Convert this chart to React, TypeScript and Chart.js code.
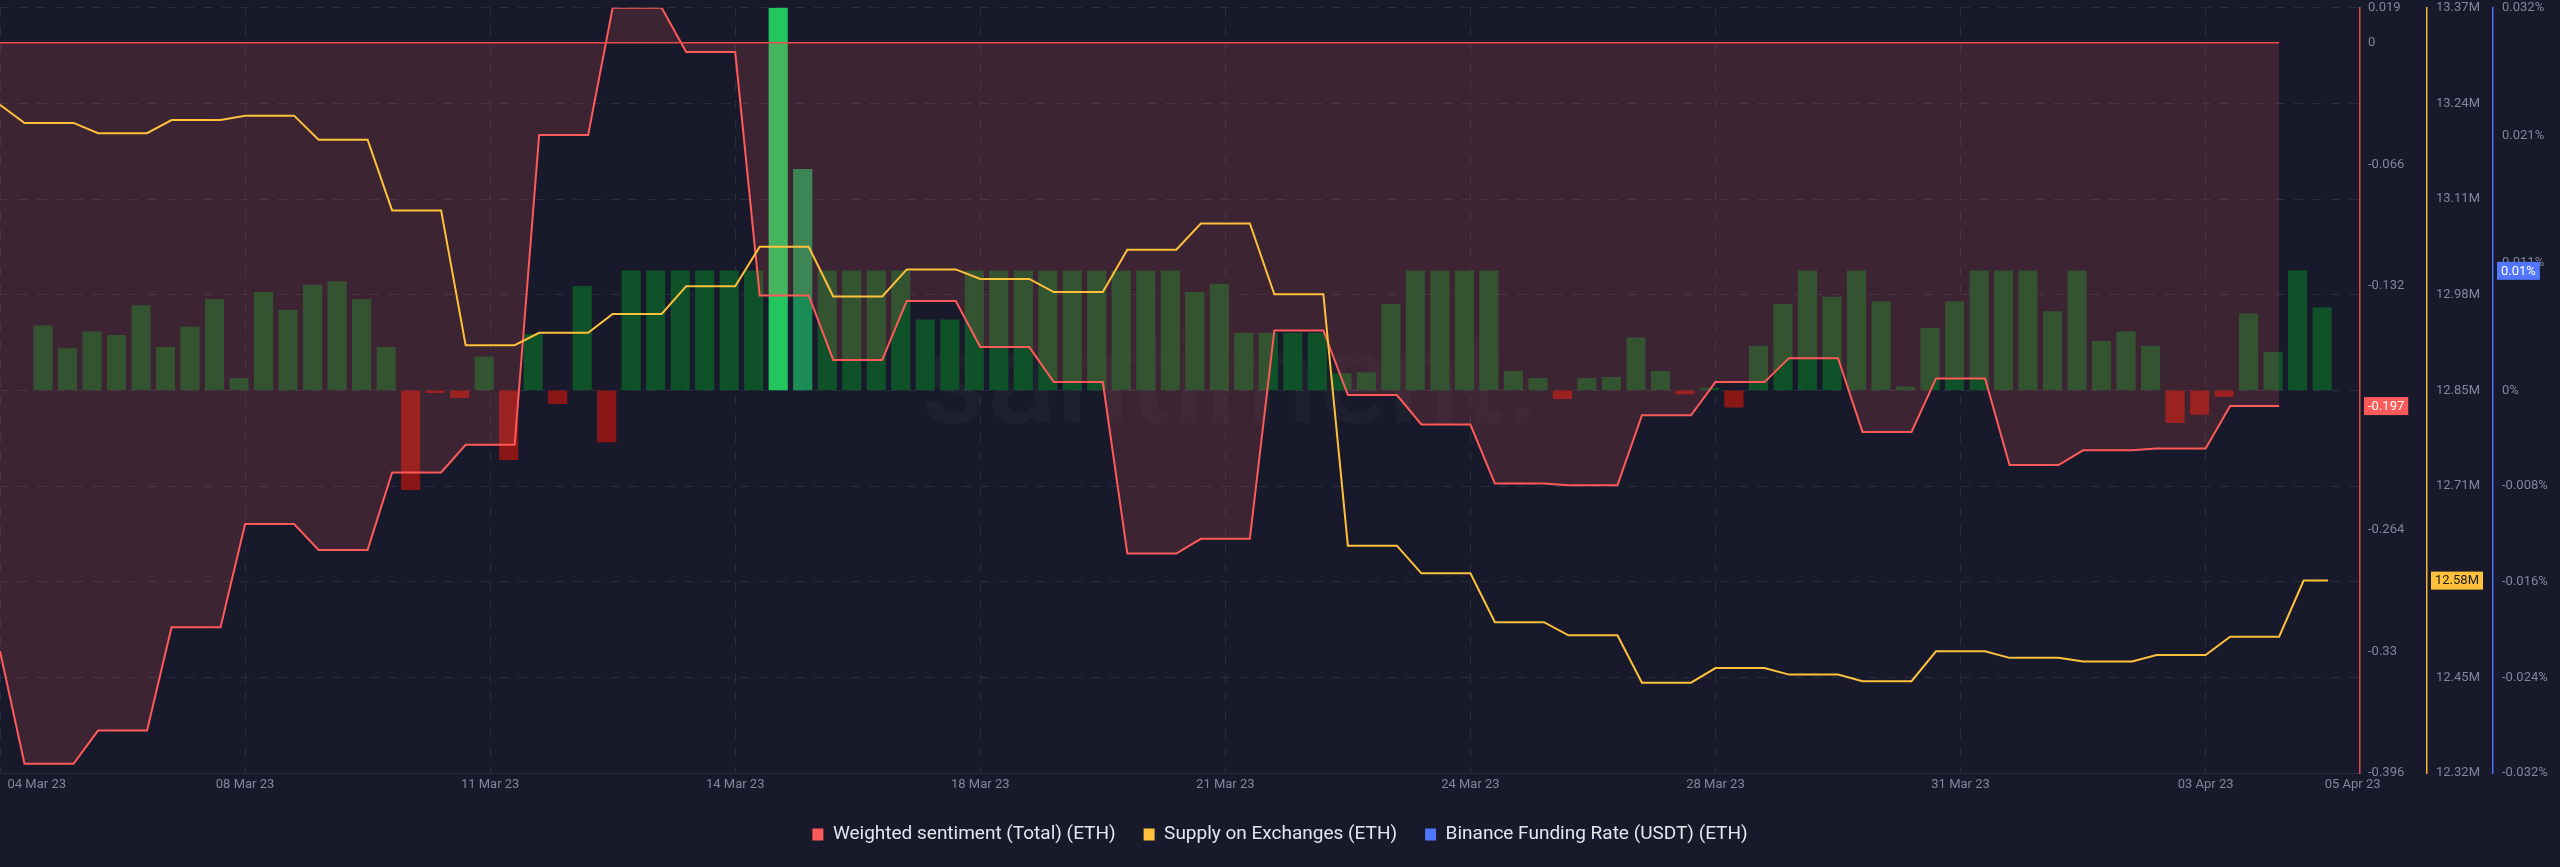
import React, { useEffect, useRef } from "react";
import { Chart, registerables } from "chart.js";

Chart.register(...registerables);

// 8-hour steps, step 0 = 04 Mar 23 16:00
const stepIndex = Array.from({ length: 96 }, (_, i) => i);

const xTickPositions = [0, 1.5, 10, 20, 30, 40, 50, 60, 70, 80, 90, 96];
const xTickLabels = [
  "", "04 Mar 23", "08 Mar 23", "11 Mar 23", "14 Mar 23", "18 Mar 23", "21 Mar 23",
  "24 Mar 23", "28 Mar 23", "31 Mar 23", "03 Apr 23", "05 Apr 23",
];

const weightedSentiment = [
  -0.33,
  -0.391, -0.391, -0.391, -0.373, -0.373, -0.373, -0.317, -0.317, -0.317,
  -0.261, -0.261, -0.261, -0.275, -0.275, -0.275, -0.233, -0.233, -0.233,
  -0.218, -0.218, -0.218, -0.05, -0.05, -0.05, 0.019, 0.019, 0.019,
  -0.005, -0.005, -0.005, -0.137, -0.137, -0.137, -0.172, -0.172, -0.172,
  -0.14, -0.14, -0.14, -0.165, -0.165, -0.165, -0.184, -0.184, -0.184,
  -0.277, -0.277, -0.277, -0.269, -0.269, -0.269, -0.156, -0.156, -0.156,
  -0.191, -0.191, -0.191, -0.207, -0.207, -0.207, -0.239, -0.239, -0.239,
  -0.24, -0.24, -0.24, -0.202, -0.202, -0.202, -0.184, -0.184, -0.184,
  -0.171, -0.171, -0.171, -0.211, -0.211, -0.211, -0.182, -0.182, -0.182,
  -0.229, -0.229, -0.229, -0.221, -0.221, -0.221, -0.22, -0.22, -0.22,
  -0.197, -0.197, -0.197,
];

// millions of ETH
const supplyOnExchanges = [
  13.237,
  13.212, 13.212, 13.212, 13.198, 13.198, 13.198, 13.216, 13.216, 13.216,
  13.222, 13.222, 13.222, 13.189, 13.189, 13.189, 13.092, 13.092, 13.092,
  12.907, 12.907, 12.907, 12.924, 12.924, 12.924, 12.95, 12.95, 12.95,
  12.988, 12.988, 12.988, 13.042, 13.042, 13.042, 12.974, 12.974, 12.974,
  13.011, 13.011, 13.011, 12.998, 12.998, 12.998, 12.98, 12.98, 12.98,
  13.038, 13.038, 13.038, 13.074, 13.074, 13.074, 12.977, 12.977, 12.977,
  12.632, 12.632, 12.632, 12.594, 12.594, 12.594, 12.527, 12.527, 12.527,
  12.509, 12.509, 12.509, 12.444, 12.444, 12.444, 12.464, 12.464, 12.464,
  12.455, 12.455, 12.455, 12.446, 12.446, 12.446, 12.487, 12.487, 12.487,
  12.478, 12.478, 12.478, 12.473, 12.473, 12.473, 12.482, 12.482, 12.482,
  12.507, 12.507, 12.507, 12.584, 12.584,
];

// percent
const fundingRate = [
  null, 0.0054, 0.0035, 0.0049, 0.0046, 0.0071, 0.0036, 0.0053, 0.0076, 0.001,
  0.0082, 0.0067, 0.0088, 0.0091, 0.0076, 0.0036, -0.0083, -0.0002, -0.0006, 0.0028,
  -0.0058, 0.0047, -0.0011, 0.0087, -0.0043, 0.01, 0.01, 0.01, 0.01, 0.01,
  0.01, 0.032, 0.0185, 0.01, 0.01, 0.01, 0.01, 0.0059, 0.0059, 0.01,
  0.01, 0.01, 0.01, 0.01, 0.01, 0.01, 0.01, 0.01, 0.0082, 0.0089,
  0.0048, 0.0048, 0.0048, 0.0048, 0.0014, 0.0015, 0.0072, 0.01, 0.01, 0.01,
  0.01, 0.0016, 0.001, -0.0007, 0.001, 0.0011, 0.0044, 0.0016, -0.0003, 0.0002,
  -0.0014, 0.0037, 0.0072, 0.01, 0.0078, 0.01, 0.0074, 0.0003, 0.0052, 0.0074,
  0.01, 0.01, 0.01, 0.0066, 0.01, 0.0041, 0.0049, 0.0037, -0.0027, -0.002,
  -0.0005, 0.0064, 0.0032, 0.01, 0.0069, null,
];

const sentimentTicks = [-0.396, -0.33, -0.264, -0.198, -0.132, -0.066, 0, 0.019];
const supplyTickLabels = [
  "12.32M", "12.45M", "12.58M", "12.71M", "12.85M", "12.98M", "13.11M", "13.24M", "13.37M",
];
const rateTicks = [-0.032, -0.024, -0.016, -0.008, 0, 0.032 / 3, 0.064 / 3, 0.032];
const rateTickLabels = ["-0.032%", "-0.024%", "-0.016%", "-0.008%", "0%", "0.011%", "0.021%", "0.032%"];

const seriesNames = [
  "Weighted sentiment (Total) (ETH)",
  "Supply on Exchanges (ETH)",
  "Binance Funding Rate (USDT) (ETH)",
];

const RED = "#ff5a5a";
const YELLOW = "#ffc13b";
const BLUE = "#5276ff";
const BG = "#181a2b";
const GRID = "#2a2d40";
const TICK = "#80869b";
const NONE = "rgba(0,0,0,0)";
const legendColors = [RED, YELLOW, BLUE];

const SUPPLY_MIN = 12.32;
const SUPPLY_MAX = 13.37;
const X_MAX = 96.3;
const BAR_SHIFT = 0.3775;

const barColor = (v: number) => {
  if (v < 0) return "#8a1616";
  if (v >= 0.025) return "#22c55e";
  if (v >= 0.015) return "#1b8c55";
  return "#0f5229";
};

const watermark = {
  id: "watermark",
  beforeDatasetsDraw(chart: any) {
    const { ctx, chartArea } = chart;
    ctx.save();
    ctx.font = "500 130px Roboto";
    ctx.fillStyle = "rgba(255,255,255,0.028)";
    ctx.textAlign = "center";
    ctx.textBaseline = "middle";
    ctx.fillText("santiment.", (chartArea.left + chartArea.right) / 2 + 50, (chartArea.top + chartArea.bottom) / 2);
    ctx.restore();
  },
};

const lastValueTags = {
  id: "lastValueTags",
  afterDraw(chart: any) {
    const { ctx } = chart;
    const lastSent = weightedSentiment[weightedSentiment.length - 1];
    const lastSupply = supplyOnExchanges[supplyOnExchanges.length - 1];
    const lastRate = fundingRate.filter((v) => v !== null).slice(-1)[0] as number;
    const rateShown = +lastRate.toFixed(2);
    const tags = [
      { id: "ySent", value: lastSent, text: lastSent.toFixed(3), bg: RED, fg: "#ffffff" },
      { id: "ySupply", value: lastSupply, text: lastSupply.toFixed(2) + "M", bg: YELLOW, fg: "#1b1b1b" },
      { id: "yRate", value: rateShown, text: String(rateShown) + "%", bg: BLUE, fg: "#ffffff" },
    ];
    ctx.save();
    ctx.font = "13px Roboto";
    ctx.textBaseline = "middle";
    ctx.textAlign = "left";
    for (const t of tags) {
      const scale = chart.scales[t.id];
      const y = scale.getPixelForValue(t.value);
      const w = ctx.measureText(t.text).width + 8;
      ctx.fillStyle = t.bg;
      ctx.fillRect(scale.left + 4, y - 9, w, 18);
      ctx.fillStyle = t.fg;
      ctx.fillText(t.text, scale.left + 8, y + 0.5);
    }
    ctx.restore();
  },
};

const App: React.FC = () => {
  const canvasRef = useRef<HTMLCanvasElement>(null);

  useEffect(() => {
    if (!canvasRef.current) return;
    const ctx = canvasRef.current.getContext("2d");
    if (!ctx) return;

    Chart.defaults.font.family = "Roboto";

    const chart = new Chart(ctx, {
      type: "bar",
      data: {
        labels: stepIndex,
        datasets: [
          {
            type: "line",
            label: seriesNames[0],
            data: weightedSentiment,
            xAxisID: "x",
            yAxisID: "ySent",
            borderColor: RED,
            borderWidth: 2,
            backgroundColor: "rgba(255, 95, 95, 0.155)",
            fill: { value: 0 },
            pointRadius: 0,
            tension: 0,
            order: 2,
          },
          {
            type: "line",
            label: seriesNames[1],
            data: supplyOnExchanges,
            xAxisID: "x",
            yAxisID: "ySupply",
            borderColor: YELLOW,
            borderWidth: 2,
            pointRadius: 0,
            tension: 0,
            fill: false,
            order: 0,
          },
          {
            type: "bar",
            label: seriesNames[2],
            data: fundingRate,
            xAxisID: "xBars",
            yAxisID: "yRate",
            backgroundColor: (c: any) => barColor(c.raw),
            barThickness: 18.5,
            order: 3,
          },
          {
            type: "line",
            label: "zero",
            data: weightedSentiment.map(() => 0),
            xAxisID: "x",
            yAxisID: "ySent",
            borderColor: "#e84c4c",
            borderWidth: 1.5,
            pointRadius: 0,
            fill: false,
            order: 1,
          },
        ],
      },
      options: {
        animation: false,
        responsive: true,
        maintainAspectRatio: false,
        devicePixelRatio: 1,
        events: [],
        layout: { padding: { top: 0, left: 0, right: 0, bottom: 13 } },
        scales: {
          x: {
            type: "linear",
            offset: false,
            min: 0,
            max: X_MAX,
            afterBuildTicks: (scale: any) => {
              scale.ticks = xTickPositions.map((v) => ({ value: v }));
            },
            afterFit: (scale: any) => {
              scale.height = 24;
            },
            ticks: {
              autoSkip: false,
              maxRotation: 0,
              padding: 0,
              color: TICK,
              font: { size: 13 },
              callback: (_v: any, i: number) => xTickLabels[i],
            },
            grid: {
              offset: false,
              color: (c: any) => (c.tick && c.tick.value % 10 === 0 ? GRID : NONE),
              drawTicks: true,
              tickLength: 4,
              tickColor: NONE,
            },
            border: { display: true, color: GRID, width: 1, dash: [9, 9.5] },
          },
          xBars: {
            type: "linear",
            display: false,
            offset: false,
            grid: { offset: false },
            min: -BAR_SHIFT,
            max: X_MAX - BAR_SHIFT,
          },
          ySent: {
            type: "linear",
            position: "right",
            weight: 0,
            min: -0.396,
            max: 0.019,
            afterBuildTicks: (scale: any) => {
              scale.ticks = sentimentTicks.map((v) => ({ value: v }));
            },
            afterFit: (scale: any) => {
              scale.width = 67;
            },
            ticks: {
              padding: 0,
              color: TICK,
              font: { size: 13 },
              callback: (v: any) => String(+Number(v).toFixed(3)),
            },
            grid: { display: true, drawOnChartArea: false, drawTicks: true, tickLength: 8, tickColor: NONE },
            border: { display: true, color: "#d9484a", width: 1.5 },
          },
          ySupply: {
            type: "linear",
            position: "right",
            weight: 1,
            min: SUPPLY_MIN,
            max: SUPPLY_MAX,
            afterBuildTicks: (scale: any) => {
              const n = supplyTickLabels.length - 1;
              scale.ticks = supplyTickLabels.map((_, i) => ({
                value: SUPPLY_MIN + ((SUPPLY_MAX - SUPPLY_MIN) * i) / n,
              }));
            },
            afterFit: (scale: any) => {
              scale.width = 66;
            },
            ticks: {
              padding: 0,
              color: TICK,
              font: { size: 13 },
              callback: (_v: any, i: number) => supplyTickLabels[i],
            },
            grid: { color: GRID, drawOnChartArea: true, drawTicks: true, tickLength: 9, tickColor: NONE },
            border: { display: true, color: "#efb636", width: 1.5, dash: [9, 9.5] },
          },
          yRate: {
            type: "linear",
            position: "right",
            weight: 2,
            min: -0.032,
            max: 0.032,
            afterBuildTicks: (scale: any) => {
              scale.ticks = rateTicks.map((v) => ({ value: v }));
            },
            afterFit: (scale: any) => {
              scale.width = 67;
            },
            ticks: {
              padding: 0,
              color: TICK,
              font: { size: 13 },
              callback: (_v: any, i: number) => rateTickLabels[i],
            },
            grid: { display: true, drawOnChartArea: false, drawTicks: true, tickLength: 9, tickColor: NONE },
            border: { display: true, color: "#4d6ef0", width: 1.5 },
          },
        },
        plugins: {
          tooltip: { enabled: false },
          legend: {
            position: "bottom",
            labels: {
              color: "#e4e6ee",
              font: { size: 19 },
              boxWidth: 11,
              boxHeight: 12,
              padding: 28,
              generateLabels: (c: any) =>
                (Chart.defaults.plugins.legend.labels as any)
                  .generateLabels(c)
                  .filter((item: any) => item.datasetIndex < 3)
                  .sort((a: any, b: any) => a.datasetIndex - b.datasetIndex)
                  .map((item: any) => ({
                    ...item,
                    fillStyle: legendColors[item.datasetIndex],
                    strokeStyle: legendColors[item.datasetIndex],
                    lineWidth: 0,
                  })),
            },
          },
        },
      },
      plugins: [watermark, lastValueTags],
    } as any);

    return () => {
      chart.destroy();
    };
  }, []);

  return (
    <div
      style={{
        position: "fixed",
        left: 0,
        top: 0,
        width: 2560,
        height: 867,
        background: BG,
      }}
    >
      <canvas ref={canvasRef} />
    </div>
  );
};

export default App;
